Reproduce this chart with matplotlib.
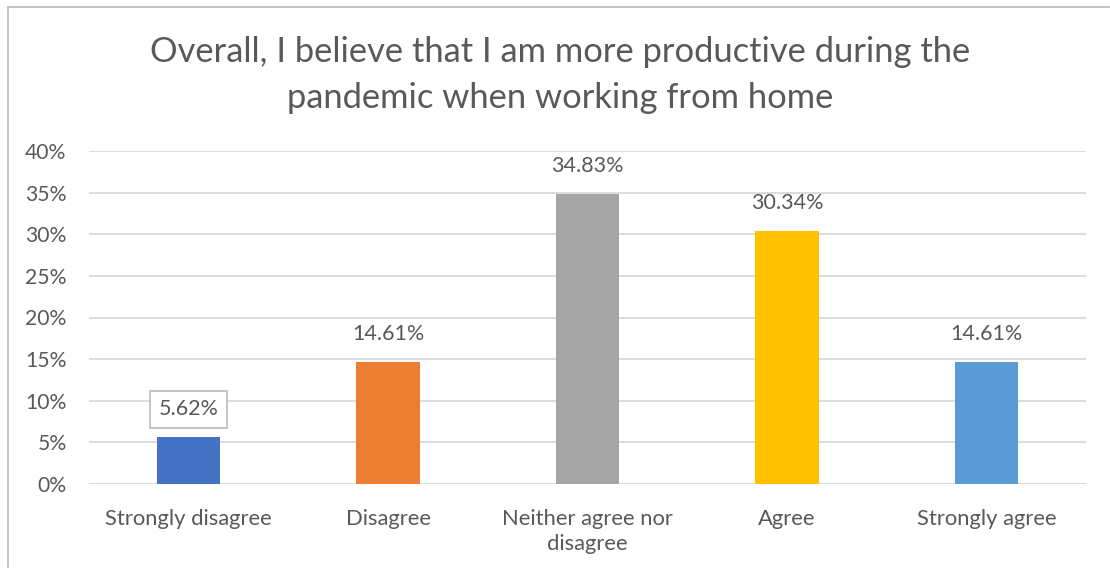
import matplotlib.pyplot as plt
from matplotlib.lines import Line2D

plt.rcParams['font.family'] = ['Lato', 'DejaVu Sans']

categories = ['Strongly disagree', 'Disagree', 'Neither agree nor\ndisagree', 'Agree', 'Strongly agree']
shares = [5.62, 14.61, 34.83, 30.34, 14.61]
colors = ['#4472C4', '#ED7D31', '#A5A5A5', '#FFC000', '#5B9BD5']
yticks = [0, 5, 10, 15, 20, 25, 30, 35, 40]

text_col = '#595959'

fig = plt.figure(figsize=(11.1, 5.68), dpi=100)
ax = fig.add_axes([88.75 / 1110, 1 - 484 / 568, 997.5 / 1110, 333 / 568])

x = range(len(categories))
ax.bar(x, shares, width=0.316, color=colors, zorder=3)

ax.set_xlim(-0.5, len(categories) - 0.5)
ax.set_ylim(0, 40)
ax.set_yticks(yticks)
ax.set_yticklabels([f'{t}%' for t in yticks], fontsize=15.2, color=text_col)
ax.set_xticks(list(x))
ax.set_xticklabels(categories, fontsize=15.8, color=text_col, linespacing=1.3)
ax.tick_params(axis='both', length=0)
ax.tick_params(axis='y', pad=16)
ax.tick_params(axis='x', pad=18)
ax.grid(axis='y', color='#D9D9D9', linewidth=1.3, zorder=0)
for s in ax.spines.values():
    s.set_visible(False)

# value labels above bars; the smallest one sits in a boxed label
for i, v in enumerate(shares):
    box = None
    if i == 0:
        box = dict(boxstyle='square,pad=0.4', facecolor='white', edgecolor='#BFBFBF', linewidth=1.3)
    ax.annotate(f'{v:.2f}%', (i, v), xytext=(0, 13), textcoords='offset points',
                ha='center', va='bottom', fontsize=15.5, color=text_col, bbox=box, zorder=4)

fig.text(0.505, 1 - 75 / 568, 'Overall, I believe that I am more productive during the\npandemic when working from home',
         ha='center', va='center', fontsize=24.8, color=text_col, linespacing=1.55)

# chart frame (left and top edges)
fig.add_artist(Line2D([8 / 1110, 8 / 1110], [0, 1 - 7 / 568], transform=fig.transFigure, color='#BFBFBF', linewidth=1.3))
fig.add_artist(Line2D([8 / 1110, 1109 / 1110], [1 - 7 / 568, 1 - 7 / 568], transform=fig.transFigure, color='#BFBFBF', linewidth=1.3))

fig.savefig('out.png', dpi=100)
